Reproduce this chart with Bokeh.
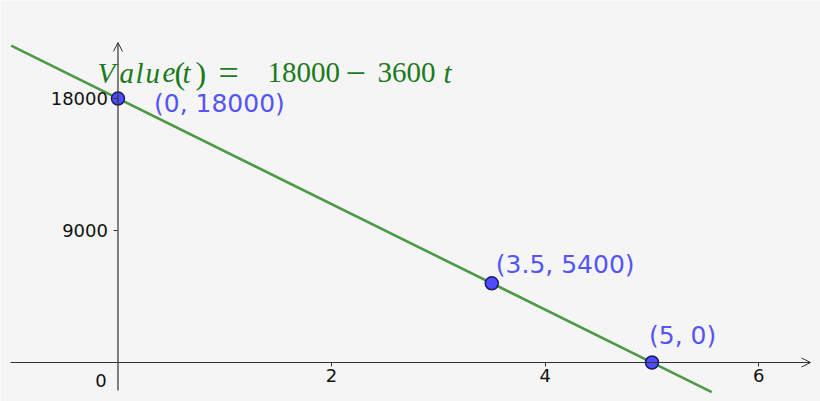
from bokeh.plotting import figure
from bokeh.models import Range1d, FixedTicker, Arrow, OpenHead, ColumnDataSource
from bokeh.core.properties import value
from bokeh.embed import file_html
from bokeh.resources import INLINE
import numpy as np

# ---- data ----
intercept = 18000
slope = -3600
line_t = [-1.0, 5.56]
point_t = [0, 3.5, 5]
point_v = [18000, 5400, 0]
point_labels = ["(0, 18000)", "(3.5, 5400)", "(5, 0)"]
x_ticks = [2, 4, 6]
y_ticks = [9000, 18000]
eq_pieces = ["V", "a", "l", "u", "e", "(", "t", ")", "=", "18000", "\u2212", "3600", "t"]
eq_styles = ["italic"] * 5 + ["normal", "italic", "normal", "normal", "normal", "normal", "normal", "italic"]

# ---- layout ----
W, H = 820, 401
x0, x1 = -1.100, 6.578
y0, y1 = -2659, 24682
BG = "#f5f5f5"
AX = "#333333"

p = figure(width=W, height=H, x_range=Range1d(x0, x1), y_range=Range1d(y0, y1),
           output_backend="svg", toolbar_location=None, min_border=0,
           background_fill_color=BG, border_fill_color=BG, outline_line_color=None)
p.grid.visible = False

# axes crossing at origin
p.xaxis.fixed_location = 0
p.yaxis.fixed_location = 0
p.xaxis.ticker = FixedTicker(ticks=x_ticks)
p.yaxis.ticker = FixedTicker(ticks=y_ticks)
for ax in (p.xaxis, p.yaxis):
    ax.axis_line_color = None
    ax.major_tick_line_color = AX
    ax.major_tick_in = 0
    ax.major_tick_out = 4
    ax.minor_tick_line_color = None
    ax.major_label_text_font = "DejaVu Sans"
    ax.major_label_text_font_size = "18px"
    ax.major_label_text_color = "#111111"
p.xaxis.major_label_standoff = 2
p.yaxis.major_label_standoff = 6

# axis lines with arrow heads
px_x = (x1 - x0) / W
px_y = (y1 - y0) / H
p.add_layout(Arrow(end=OpenHead(size=9, line_color=AX, line_width=1),
                   x_start=x0 + 10 * px_x, y_start=0, x_end=x1 - 10 * px_x, y_end=0,
                   line_color=AX, line_width=1.2))
p.add_layout(Arrow(end=OpenHead(size=9, line_color=AX, line_width=1),
                   x_start=0, y_start=y0 + 11 * px_y, x_end=0, y_end=y1 - 42 * px_y,
                   line_color=AX, line_width=1.2))

# origin label
p.text(x=[0], y=[0], text=["0"], x_offset=-17, y_offset=11, text_align="center",
       text_baseline="top", text_font=value("DejaVu Sans"), text_font_size="18px",
       text_color="#111111")

# line
lt = np.array(line_t)
p.line(lt, intercept + slope * lt, line_color="#4c9a44", line_width=2.6)

# points
src = ColumnDataSource(dict(x=point_t, y=point_v, label=point_labels,
                            xo=[36, 4, -3], yo=[5, -19, -27]))
p.scatter("x", "y", source=src, size=13, fill_color="#4d4dff", line_color="#1a1a66", line_width=1.5)
p.text("x", "y", text="label", source=src, x_offset="xo", y_offset="yo",
       text_baseline="middle", text_align="left", text_font=value("DejaVu Sans"),
       text_font_size="25px", text_color="#5555f5")

# equation
eq_off = [0, 22, 38, 48, 65, 77, 85, 98, 121, 170, 248, 280, 346]
eq_size = ["29px"] * 5 + ["32px", "29px", "32px", "36px", "29px", "36px", "29px", "29px"]
eq_src = ColumnDataSource(dict(x=[97 * px_x + x0] * len(eq_pieces),
                               y=[y1 - 72 * px_y] * len(eq_pieces),
                               text=eq_pieces, style=eq_styles, xo=eq_off, fs=eq_size))
p.text("x", "y", text="text", source=eq_src, x_offset="xo", text_font_style="style",
       text_baseline="alphabetic", text_align="left", text_font=value("Liberation Serif"),
       text_font_size="fs", text_color="#1b7a1b")

html = file_html(p, INLINE)
open("out.html", "w").write(html)
